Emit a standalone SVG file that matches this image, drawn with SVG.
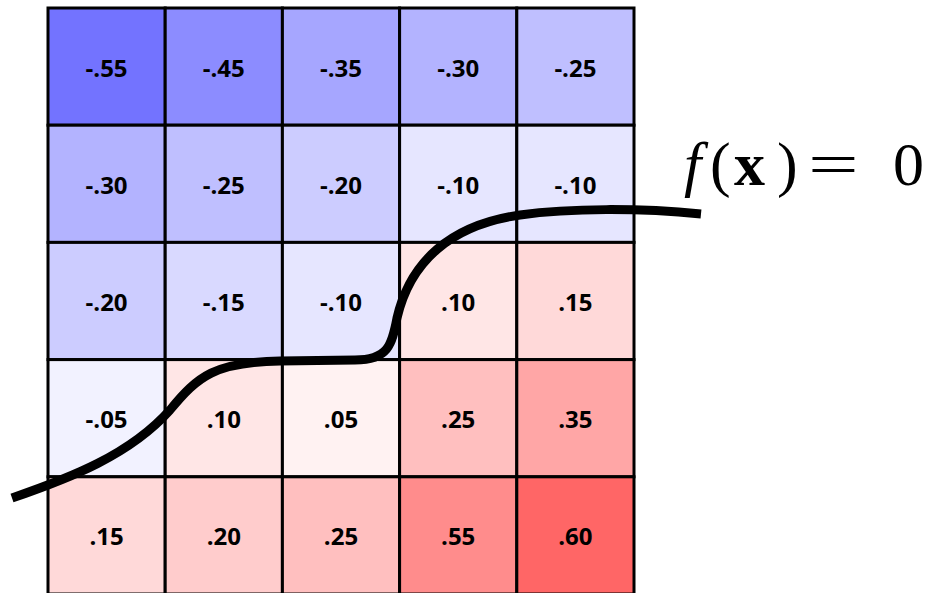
<svg xmlns="http://www.w3.org/2000/svg" width="933" height="593" viewBox="0 0 933 593">
<style>
.c{stroke:#000;stroke-width:3}
.t{font-family:"Open Sans","Noto Sans",sans-serif;font-weight:bold;font-size:24px;text-anchor:middle;dominant-baseline:central;fill:#000}
.m{font-family:"Liberation Serif","DejaVu Serif",serif;font-size:62px;fill:#000}
</style>
<rect width="933" height="593" fill="#fff"/>
<g id="grid">
<g id="r0">
<rect class="c" x="48" y="8" width="117.2" height="117.2" fill="#7373ff"/><text class="t" x="106.6" y="67">-.55</text>
<rect class="c" x="165.2" y="8" width="117.2" height="117.2" fill="#8c8cff"/><text class="t" x="223.8" y="67">-.45</text>
<rect class="c" x="282.4" y="8" width="117.2" height="117.2" fill="#a6a6ff"/><text class="t" x="341" y="67">-.35</text>
<rect class="c" x="399.6" y="8" width="117.2" height="117.2" fill="#b3b3ff"/><text class="t" x="458.2" y="67">-.30</text>
<rect class="c" x="516.8" y="8" width="117.2" height="117.2" fill="#bfbfff"/><text class="t" x="575.4" y="67">-.25</text>
</g>
<g id="r1">
<rect class="c" x="48" y="125.2" width="117.2" height="117.2" fill="#b3b3ff"/><text class="t" x="106.6" y="184.2">-.30</text>
<rect class="c" x="165.2" y="125.2" width="117.2" height="117.2" fill="#bfbfff"/><text class="t" x="223.8" y="184.2">-.25</text>
<rect class="c" x="282.4" y="125.2" width="117.2" height="117.2" fill="#ccccff"/><text class="t" x="341" y="184.2">-.20</text>
<rect class="c" x="399.6" y="125.2" width="117.2" height="117.2" fill="#e6e6ff"/><text class="t" x="458.2" y="184.2">-.10</text>
<rect class="c" x="516.8" y="125.2" width="117.2" height="117.2" fill="#e6e6ff"/><text class="t" x="575.4" y="184.2">-.10</text>
</g>
<g id="r2">
<rect class="c" x="48" y="242.4" width="117.2" height="117.2" fill="#ccccff"/><text class="t" x="106.6" y="301.4">-.20</text>
<rect class="c" x="165.2" y="242.4" width="117.2" height="117.2" fill="#d9d9ff"/><text class="t" x="223.8" y="301.4">-.15</text>
<rect class="c" x="282.4" y="242.4" width="117.2" height="117.2" fill="#e6e6ff"/><text class="t" x="341" y="301.4">-.10</text>
<rect class="c" x="399.6" y="242.4" width="117.2" height="117.2" fill="#ffe6e6"/><text class="t" x="458.2" y="301.4">.10</text>
<rect class="c" x="516.8" y="242.4" width="117.2" height="117.2" fill="#ffd9d9"/><text class="t" x="575.4" y="301.4">.15</text>
</g>
<g id="r3">
<rect class="c" x="48" y="359.6" width="117.2" height="117.2" fill="#f2f2ff"/><text class="t" x="106.6" y="418.6">-.05</text>
<rect class="c" x="165.2" y="359.6" width="117.2" height="117.2" fill="#ffe6e6"/><text class="t" x="223.8" y="418.6">.10</text>
<rect class="c" x="282.4" y="359.6" width="117.2" height="117.2" fill="#fff2f2"/><text class="t" x="341" y="418.6">.05</text>
<rect class="c" x="399.6" y="359.6" width="117.2" height="117.2" fill="#ffbfbf"/><text class="t" x="458.2" y="418.6">.25</text>
<rect class="c" x="516.8" y="359.6" width="117.2" height="117.2" fill="#ffa6a6"/><text class="t" x="575.4" y="418.6">.35</text>
</g>
<g id="r4">
<rect class="c" x="48" y="476.8" width="117.2" height="117.2" fill="#ffd9d9"/><text class="t" x="106.6" y="535.8">.15</text>
<rect class="c" x="165.2" y="476.8" width="117.2" height="117.2" fill="#ffcccc"/><text class="t" x="223.8" y="535.8">.20</text>
<rect class="c" x="282.4" y="476.8" width="117.2" height="117.2" fill="#ffbfbf"/><text class="t" x="341" y="535.8">.25</text>
<rect class="c" x="399.6" y="476.8" width="117.2" height="117.2" fill="#ff8c8c"/><text class="t" x="458.2" y="535.8">.55</text>
<rect class="c" x="516.8" y="476.8" width="117.2" height="117.2" fill="#ff6666"/><text class="t" x="575.4" y="535.8">.60</text>
</g>
</g>
<g id="connectors">
<path d="M 12 498 C 70 478, 130 455, 170 410 C 198 376, 215 362, 280 361 L 355 360 C 388 360, 392 345, 397 318 C 410 262, 450 225, 520 215 C 570 208, 640 208, 701 214" fill="none" stroke="#000" stroke-width="9"/>
</g>
<g id="label">
<text class="m" x="684" y="185" font-style="italic">f</text>
<text class="m" x="710" y="185" font-size="66">(</text>
<text class="m" x="734" y="185" font-weight="bold">x</text>
<text class="m" x="777" y="185" font-size="66">)</text>
<text class="m" transform="translate(808 185) scale(1.45 1)" x="0" y="0">=</text>
<text class="m" x="893" y="185">0</text>
</g>
</svg>
